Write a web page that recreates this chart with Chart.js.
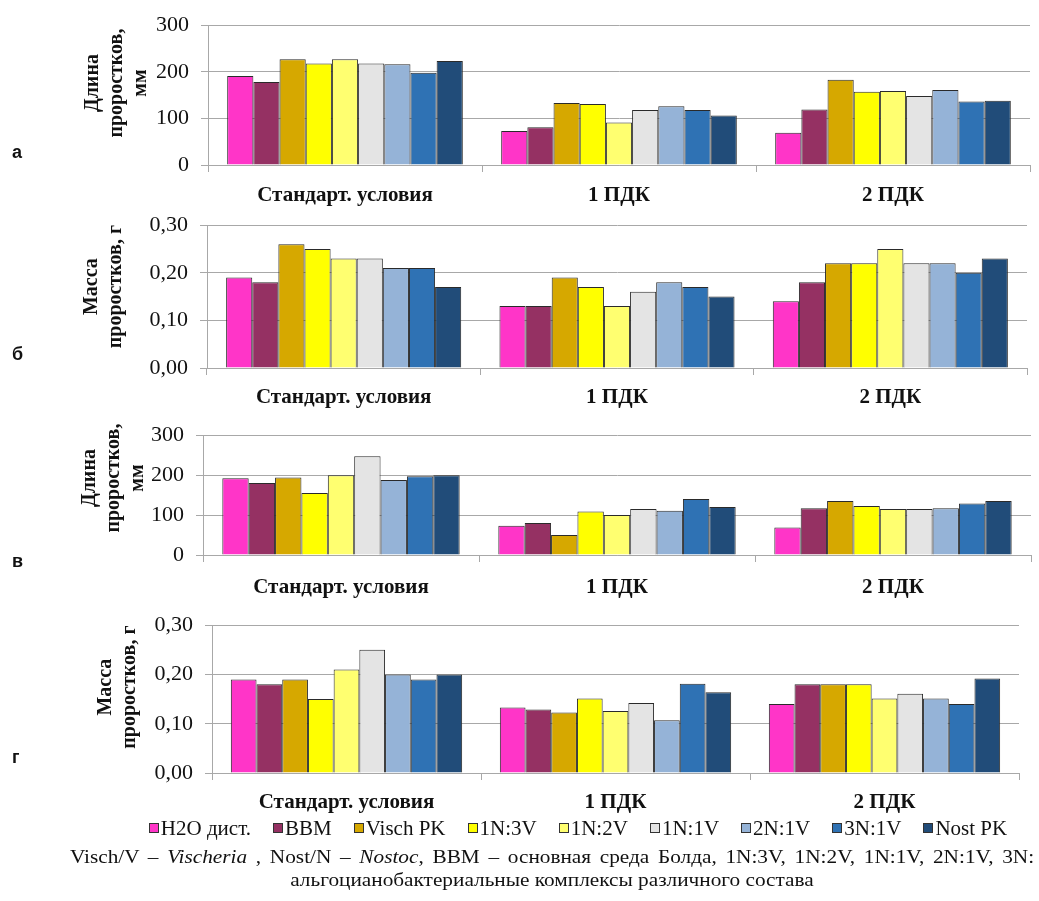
<!DOCTYPE html>
<html lang="ru">
<head>
<meta charset="utf-8">
<title>Длина и масса проростков</title>
<script src="https://cdn.jsdelivr.net/npm/chart.js@4.4.0/dist/chart.umd.min.js"></script>
<style>
  body { margin: 0; background: #fff; }
  #wrap { position: relative; width: 1039px; height: 901px; overflow: hidden; font-family: "Liberation Serif", "Times New Roman", serif; color: #111; }
  .panel { position: absolute; left: 0; }
  .tag { position: absolute; left: 12px; font: bold 18px "Liberation Sans", Arial, sans-serif; color: #111; }
  #legend { position: absolute; left: 0; width: 1156px; top: 817px; height: 22px; display: flex; justify-content: center; align-items: center; gap: 22px; font-size: 21px; }
  #legend .item { display: flex; align-items: center; white-space: nowrap; }
  #legend .box { width: 8px; height: 8px; border: 1px solid #333; margin-right: 2px; }
  .cap { position: absolute; left: 0; width: 1104px; text-align: center; font-size: 19px; white-space: nowrap; transform: scaleX(1.12); transform-origin: 552px 50%; }
</style>
</head>
<body>
<div id="wrap">
  <canvas id="chartA" class="panel" width="1039" height="210" style="top:0px"></canvas>
  <canvas id="chartB" class="panel" width="1039" height="210" style="top:200px"></canvas>
  <canvas id="chartC" class="panel" width="1039" height="190" style="top:410px"></canvas>
  <canvas id="chartD" class="panel" width="1039" height="222" style="top:600px"></canvas>
  <div class="tag" style="top:142px">а</div>
  <div class="tag" style="top:344px">б</div>
  <div class="tag" style="top:551px">в</div>
  <div class="tag" style="top:747px">г</div>
  <div id="legend"></div>
  <div class="cap" style="top:846px; word-spacing:3px">Visch/V – <i>Vischeria</i> , Nost/N – <i>Nostoc</i>, BBM – основная среда Болда, 1N:3V, 1N:2V, 1N:1V, 2N:1V, 3N:</div>
  <div class="cap" style="top:869px">альгоцианобактериальные комплексы различного состава</div>
</div>
<script>
// categories and series
const categories = ['Стандарт. условия', '1 ПДК', '2 ПДК'];
const seriesNames = ['H2O дист.', 'BBM', 'Visch PK', '1N:3V', '1N:2V', '1N:1V', '2N:1V', '3N:1V', 'Nost PK'];
const seriesColors = ['#ff35c8', '#953163', '#d6a800', '#ffff00', '#ffff70', '#e4e4e4', '#95b3d7', '#2f72b4', '#214c79'];

// а - длина проростков, мм (one row per series: std, 1 ПДК, 2 ПДК)
const lengthA = [
    [191, 73, 69],
    [178, 81, 119],
    [227, 133, 183],
    [218, 131, 157],
    [227, 91, 159],
    [218, 118, 148],
    [216, 126, 161],
    [198, 118, 136],
    [223, 106, 138]
];

// б - масса проростков, г
const massB = [
    [0.19, 0.13, 0.14],
    [0.18, 0.13, 0.18],
    [0.26, 0.19, 0.22],
    [0.25, 0.17, 0.22],
    [0.23, 0.13, 0.25],
    [0.23, 0.16, 0.22],
    [0.21, 0.18, 0.22],
    [0.21, 0.17, 0.20],
    [0.17, 0.15, 0.23]
];

// в - длина проростков, мм
const lengthC = [
    [192, 73, 69],
    [180, 80, 117],
    [194, 50, 135],
    [155, 109, 123],
    [200, 100, 115],
    [247, 115, 115],
    [188, 111, 117],
    [197, 140, 129],
    [200, 120, 135]
];

// г - масса проростков, г
const massD = [
    [0.19, 0.133, 0.14],
    [0.18, 0.129, 0.18],
    [0.19, 0.123, 0.18],
    [0.15, 0.151, 0.18],
    [0.21, 0.126, 0.151],
    [0.25, 0.142, 0.161],
    [0.20, 0.107, 0.151],
    [0.19, 0.181, 0.14],
    [0.20, 0.164, 0.192]
];

const lengthTicks = [0, 100, 200, 300];
const massTicks = [0, 0.1, 0.2, 0.3];
const lengthTitle = ['Длина', 'проростков,', 'мм'];
const massTitle = ['Масса', 'проростков, г'];

const gridColor = '#a8a8a8';
const serif = '"Liberation Serif", "Times New Roman", serif';

// rotated y-axis title, centred a bit above the middle of the plot like the original
const axisTitle = {
    id: 'axisTitle',
    afterDraw(chart, args, o) {
        const { ctx, chartArea } = chart;
        const cy = (chartArea.top + chartArea.bottom) / 2 - o.lift;
        ctx.save();
        ctx.font = 'bold 20px ' + serif;
        ctx.fillStyle = '#111';
        ctx.textAlign = 'center';
        ctx.textBaseline = 'middle';
        o.lines.forEach((t, i) => {
            ctx.save();
            ctx.translate(o.x + i * 24, cy);
            ctx.rotate(-Math.PI / 2);
            ctx.fillText(t, 0, 0);
            ctx.restore();
        });
        ctx.restore();
    }
};

function makePanel(id, rows, ticks, title, fmt, box) {
    const ctx = document.getElementById(id).getContext('2d');
    return new Chart(ctx, {
        type: 'bar',
        data: {
            labels: categories,
            datasets: rows.map((vals, i) => ({
                label: seriesNames[i],
                data: vals,
                backgroundColor: seriesColors[i],
                borderColor: '#2a2a2a',
                borderWidth: 1,
                categoryPercentage: 0.86,
                barPercentage: 1.0
            }))
        },
        plugins: [axisTitle],
        options: {
            responsive: false,
            animation: false,
            layout: { padding: { top: box.top, right: box.right, left: 0, bottom: 0 } },
            plugins: {
                legend: { display: false },
                tooltip: { enabled: false },
                axisTitle: { lines: title, x: box.titleX, lift: box.lift }
            },
            scales: {
                x: {
                    grid: { drawOnChartArea: false, color: gridColor, tickLength: 7 },
                    border: { color: gridColor },
                    ticks: { color: '#111', padding: box.labelPad, font: { family: serif, size: 21, weight: 'bold' } },
                    afterFit: s => { s.height = box.xHeight; }
                },
                y: {
                    min: ticks[0],
                    max: ticks[ticks.length - 1],
                    afterBuildTicks: s => { s.ticks = ticks.map(v => ({ value: v })); },
                    grid: { color: gridColor, tickLength: 7 },
                    border: { color: gridColor },
                    ticks: { color: '#111', padding: 12, font: { family: serif, size: 22 }, callback: fmt },
                    afterFit: s => { s.width = box.left; }
                }
            }
        }
    });
}

const fmtLength = v => String(v);
const fmtMass = v => v.toFixed(2).replace('.', ',');

makePanel('chartA', lengthA, lengthTicks, lengthTitle, fmtLength,
    { top: 22, right: 9, left: 208, xHeight: 45, labelPad: 11, titleX: 93, lift: 12 });
makePanel('chartB', massB, massTicks, massTitle, fmtMass,
    { top: 19, right: 12, left: 207, xHeight: 42, labelPad: 10, titleX: 92, lift: 10 });
makePanel('chartC', lengthC, lengthTicks, lengthTitle, fmtLength,
    { top: 21, right: 8, left: 203, xHeight: 45, labelPad: 13, titleX: 90, lift: 17 });
makePanel('chartD', massD, massTicks, massTitle, fmtMass,
    { top: 22, right: 20, left: 212, xHeight: 49, labelPad: 10, titleX: 106, lift: 12 });

// legend built from the series arrays
const legend = document.getElementById('legend');
seriesNames.forEach((name, i) => {
    const item = document.createElement('div');
    item.className = 'item';
    const sw = document.createElement('span');
    sw.className = 'box';
    sw.style.background = seriesColors[i];
    const txt = document.createElement('span');
    txt.textContent = name;
    item.appendChild(sw);
    item.appendChild(txt);
    legend.appendChild(item);
});
</script>
</body>
</html>
